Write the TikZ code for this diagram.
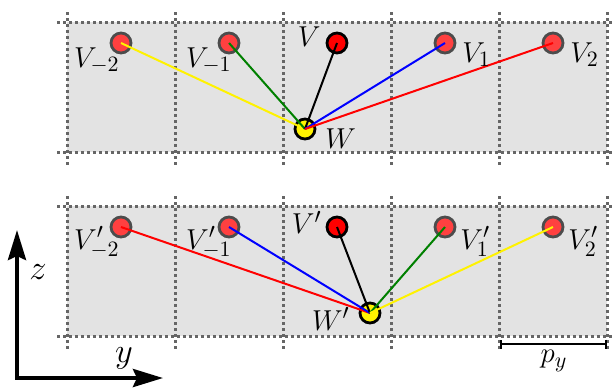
\documentclass[tikz,border=0pt]{standalone}
\usetikzlibrary{arrows.meta}
\tikzset{
  site/.style={circle,draw=black!70,fill=red!75,line width=1.4pt,minimum size=10pt,inner sep=0pt},
  home/.style={site,draw=black,fill=red},
  probe/.style={site,draw=black,fill=yellow},
  lbl/.style={inner sep=0pt,font=\fontsize{15}{18}\selectfont},
  axlbl/.style={inner sep=0pt,font=\fontsize{18}{21}\selectfont},
  cellline/.style={black!60,line width=1.5pt,dash pattern=on 1.5pt off 1.5pt},
  bond/.style={line width=1pt},
  axis/.style={line width=2pt,{Stealth[length=15pt,width=9pt,inset=2pt]}-{Stealth[length=15pt,width=9pt,inset=2pt]}}
}
\begin{document}
\begin{tikzpicture}[x=0.5pt,y=-0.5pt]
\useasboundingbox (0,0) rectangle (616,388);
\def\xL{67}
\def\xR{607}
\def\cw{108}
% two strips of cells
\foreach \yT/\yB in {22/152,206/336}{
  \fill[black!11] (\xL,\yT) rectangle (\xR,\yB);
  \draw[cellline] (57,\yT) -- (614,\yT);
  \draw[cellline] (57,\yB) -- (614,\yB);
  \foreach \i in {0,...,5} \draw[cellline] (\xL+\i*\cw,\yT-10) -- (\xL+\i*\cw,\yB+13);
}
% top row: V and its images
\foreach \n/\k in {m2/0,m1/1,1/3,2/4} \node[site] (V\n) at (121+\k*\cw,43) {};
\node[home] (V0) at (337,43) {};
\node[probe] (W) at (305,129) {};
\foreach \n/\c in {m2/yellow,m1/green!50!black,0/black,1/blue,2/red} \draw[bond,\c] (W.center) -- (V\n.center);
\node[lbl,anchor=north east] (lVm2) at (120,47) {$V_{-2}$};
\node[lbl,anchor=north east] (lVm1) at (232,47) {$V_{-1}$};
\node[lbl,anchor=south east] (lV0) at (321,47) {$V$};
\node[lbl,anchor=north west] (lV1) at (462,42) {$V_1$};
\node[lbl,anchor=north west] (lV2) at (570,42) {$V_2$};
\node[lbl,anchor=north west] (lW) at (325,128) {$W$};
% bottom row: primed copies
\foreach \n/\k in {m2/0,m1/1,1/3,2/4} \node[site] (P\n) at (121+\k*\cw,227) {};
\node[home] (P0) at (337,227) {};
\node[probe] (Wp) at (370,313) {};
\foreach \n/\c in {m2/red,m1/blue,0/black,1/green!50!black,2/yellow} \draw[bond,\c] (Wp.center) -- (P\n.center);
\node[lbl,anchor=north east] (lPm2) at (120,226) {$V'_{-2}$};
\node[lbl,anchor=north east] (lPm1) at (232,226) {$V'_{-1}$};
\node[lbl,anchor=south east] (lP0) at (322,234) {$V'$};
\node[lbl,anchor=north west] (lP1) at (460,226) {$V'_1$};
\node[lbl,anchor=north west] (lP2) at (568,226) {$V'_2$};
\node[lbl,anchor=north east] (lWp) at (350,307) {$W'$};
% period
\coordinate (pa) at (500,344);
\coordinate (pb) at (607,344);
\draw[line width=1pt,{Bar[width=4.5pt]}-{Bar[width=4.5pt]}] (pa) -- (pb);
\node[lbl] (lp) at (554,361) {$p_y$};
% axes
\coordinate (O) at (17,378);
\coordinate (zt) at (17,230);
\coordinate (yt) at (163,378);
\draw[axis] (zt) -- (O) -- (yt);
\node[axlbl] (lz) at (38,272) {$z$};
\node[axlbl] (ly) at (124,358) {$y$};
\end{tikzpicture}
\end{document}
